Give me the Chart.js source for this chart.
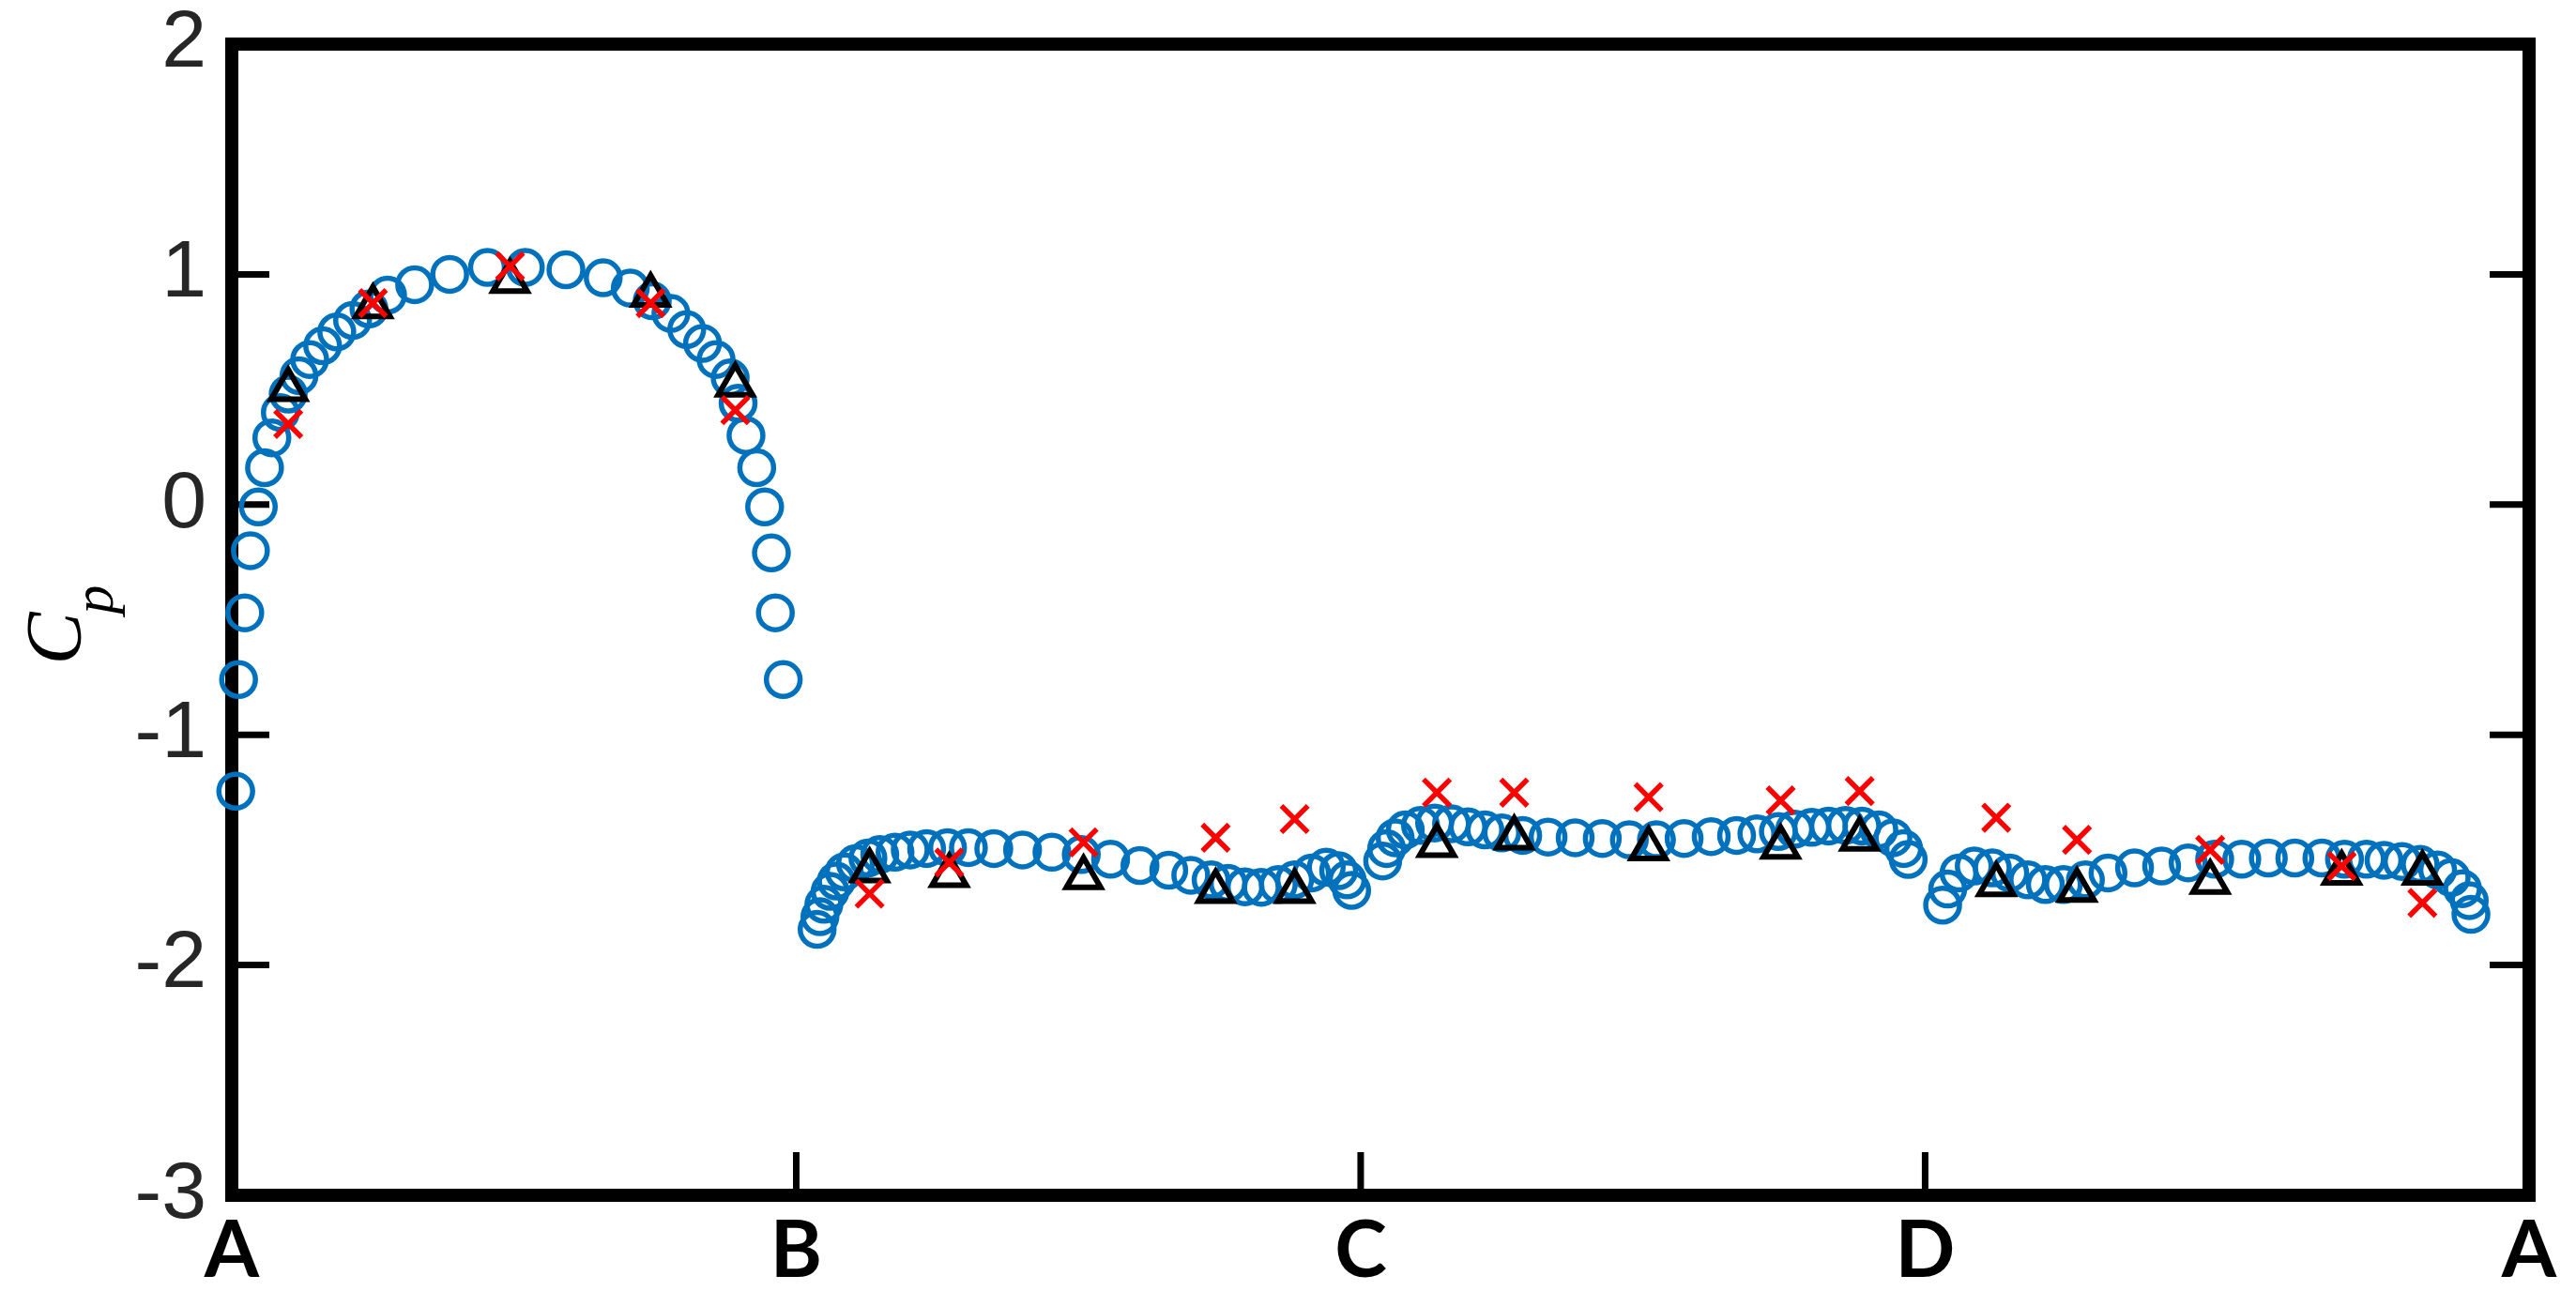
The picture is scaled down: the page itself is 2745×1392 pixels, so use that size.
<!DOCTYPE html>
<html>
<head>
<meta charset="utf-8">
<script src="https://cdn.jsdelivr.net/npm/chart.js@4.4.0/dist/chart.umd.min.js"></script>
<style>
  html, body { margin: 0; padding: 0; background: #fff; }
  #wrap { width: 2745px; height: 1392px; position: relative; }
</style>
</head>
<body>
<div id="wrap"><canvas id="cpChart"></canvas></div>
<script>
// position round the section: A = 0, B = 1, C = 2, D = 3, back to A at the right edge
const xTickValues = [0, 1, 2, 3, 4.07];
const xTickLabels = ['A', 'B', 'C', 'D', 'A'];
const yTickValues = [2, 1, 0, -1, -2, -3];

// blue circles, face by face
const xAB = [0.007, 0.012, 0.023, 0.033, 0.047, 0.058, 0.071, 0.086, 0.100, 0.119, 0.138, 0.161, 0.186, 0.214, 0.243, 0.276, 0.324, 0.386,
             0.453, 0.520, 0.592, 0.658, 0.706, 0.745, 0.778, 0.806, 0.834, 0.858, 0.883, 0.897, 0.911, 0.930, 0.944, 0.956, 0.963, 0.977];
const cpAB = [-1.245, -0.76, -0.47, -0.20, -0.01, 0.16, 0.29, 0.40, 0.48, 0.56, 0.63, 0.69, 0.75, 0.80, 0.85, 0.91, 0.955, 1.0,
              1.03, 1.03, 1.02, 0.985, 0.94, 0.885, 0.83, 0.76, 0.70, 0.63, 0.55, 0.44, 0.30, 0.16, -0.01, -0.21, -0.47, -0.76];

const xBC = [1.037, 1.042, 1.049, 1.060, 1.071, 1.085, 1.105, 1.127, 1.148, 1.175, 1.202, 1.231, 1.268, 1.305, 1.350, 1.401, 1.453,
             1.505, 1.557, 1.609, 1.660, 1.699, 1.735, 1.765, 1.795, 1.824, 1.854, 1.883, 1.913, 1.939, 1.961, 1.976, 1.984];
const cpBC = [-1.845, -1.79, -1.736, -1.68, -1.635, -1.595, -1.56, -1.535, -1.52, -1.51, -1.50, -1.494, -1.49, -1.49, -1.494, -1.50, -1.51,
              -1.52, -1.54, -1.568, -1.588, -1.61, -1.63, -1.645, -1.66, -1.662, -1.65, -1.63, -1.60, -1.575, -1.59, -1.63, -1.676];

const xCD = [2.039, 2.046, 2.061, 2.079, 2.106, 2.131, 2.161, 2.190, 2.220, 2.250, 2.287, 2.332, 2.380, 2.428, 2.476,
             2.524, 2.573, 2.621, 2.666, 2.702, 2.740, 2.769, 2.799, 2.829, 2.859, 2.888, 2.918, 2.943, 2.962, 2.970];
const cpCD = [-1.548, -1.494, -1.447, -1.413, -1.393, -1.383, -1.386, -1.40, -1.413, -1.426, -1.437, -1.444, -1.447, -1.45, -1.456,
              -1.456, -1.45, -1.442, -1.437, -1.43, -1.42, -1.41, -1.402, -1.396, -1.393, -1.396, -1.413, -1.447, -1.494, -1.541];

const xDA = [3.031, 3.040, 3.060, 3.087, 3.119, 3.150, 3.182, 3.213, 3.245, 3.284, 3.324, 3.371, 3.419, 3.466, 3.513,
             3.561, 3.608, 3.655, 3.703, 3.743, 3.782, 3.813, 3.845, 3.877, 3.908, 3.932, 3.952, 3.964, 3.967];
const cpDA = [-1.74, -1.67, -1.60, -1.57, -1.578, -1.60, -1.63, -1.65, -1.65, -1.63, -1.60, -1.578, -1.57, -1.556, -1.54,
              -1.54, -1.535, -1.535, -1.535, -1.54, -1.54, -1.545, -1.55, -1.563, -1.587, -1.62, -1.668, -1.72, -1.78];

// pressure taps: black triangles and red crosses share the same positions
const xTaps = [0.100, 0.250, 0.493, 0.742, 0.892,
               1.130, 1.271, 1.509, 1.743, 1.883,
               2.135, 2.272, 2.510, 2.744, 2.884,
               3.126, 3.269, 3.505, 3.738, 3.881];
const cpTriangle = [0.50, 0.86, 0.97, 0.91, 0.52,
                    -1.59, -1.61, -1.62, -1.68, -1.68,
                    -1.48, -1.447, -1.494, -1.487, -1.453,
                    -1.65, -1.675, -1.64, -1.60, -1.60];
const cpCross = [0.35, 0.875, 1.035, 0.875, 0.41,
                 -1.69, -1.555, -1.467, -1.447, -1.366,
                 -1.251, -1.251, -1.271, -1.285, -1.244,
                 -1.36, -1.456, -1.50, -1.57, -1.73];

const faces = [[xAB, cpAB], [xBC, cpBC], [xCD, cpCD], [xDA, cpDA]];
const circlePts = faces.flatMap(([xs, ys]) => xs.map((x, i) => ({ x: x, y: ys[i] })));
const trianglePts = xTaps.map((x, i) => ({ x: x, y: cpTriangle[i] }));
const crossPts = xTaps.map((x, i) => ({ x: x, y: cpCross[i] }));

// thick box, inward ticks and the C_p label
const framePlugin = {
    id: 'frame',
    beforeDatasetsDraw(chart) {
        const { ctx, chartArea: a, scales: { x, y } } = chart;
        ctx.save();
        ctx.strokeStyle = '#000';
        ctx.lineWidth = 7;
        ctx.beginPath();
        [1, 0, -1, -2].forEach(v => {
            const py = y.getPixelForValue(v);
            ctx.moveTo(a.left, py); ctx.lineTo(a.left + 40, py);
            ctx.moveTo(a.right, py); ctx.lineTo(a.right - 42, py);
        });
        [1, 2, 3].forEach(v => {
            const px = x.getPixelForValue(v);
            ctx.moveTo(px, a.bottom); ctx.lineTo(px, a.bottom - 46);
        });
        ctx.stroke();
        ctx.lineWidth = 14;
        ctx.strokeRect(a.left, a.top, a.right - a.left, a.bottom - a.top);
        ctx.restore();
    },
    afterDraw(chart) {
        const { ctx, chartArea: a } = chart;
        ctx.save();
        ctx.translate(86, (a.top + a.bottom) / 2 + 48);
        ctx.rotate(-Math.PI / 2);
        ctx.fillStyle = '#000';
        ctx.textBaseline = 'alphabetic';
        ctx.font = 'italic 84px "Liberation Serif"';
        ctx.fillText('C', 0, 0);
        const w = ctx.measureText('C').width;
        ctx.font = 'italic 62px "Liberation Serif"';
        ctx.fillText('p', w - 2, 34);
        ctx.restore();
    }
};

const ctx = document.getElementById('cpChart').getContext('2d');
const cpChart = new Chart(ctx, {
    type: 'scatter',
    data: {
        datasets: [
            {
                label: 'cross',
                data: crossPts,
                order: 0,
                pointStyle: 'crossRot',
                pointRadius: 20,
                borderWidth: 5.5,
                borderColor: '#ff0000',
                backgroundColor: '#ff0000',
                clip: false
            },
            {
                label: 'triangle',
                data: trianglePts,
                order: 1,
                pointStyle: 'triangle',
                pointRadius: 21,
                borderWidth: 6,
                borderColor: '#000',
                backgroundColor: 'rgba(0,0,0,0)',
                clip: false
            },
            {
                label: 'circle',
                data: circlePts,
                order: 2,
                pointStyle: 'circle',
                pointRadius: 18,
                borderWidth: 5.5,
                borderColor: '#0072bd',
                backgroundColor: 'rgba(0,0,0,0)',
                clip: false
            }
        ]
    },
    options: {
        responsive: true,
        maintainAspectRatio: false,
        animation: false,
        devicePixelRatio: 1,
        events: [],
        layout: { padding: { top: 47, right: 50, left: 0, bottom: 0 } },
        scales: {
            x: {
                type: 'linear',
                min: 0,
                max: 4.07,
                afterBuildTicks: s => { s.ticks = xTickValues.map(v => ({ value: v })); },
                afterFit: s => { s.height = 118; },
                grid: { display: false, drawTicks: false },
                border: { display: false },
                ticks: {
                    autoSkip: false,
                    maxRotation: 0,
                    padding: 10,
                    color: '#000',
                    font: { family: 'Lato', weight: 'bold', size: 84 },
                    callback: (v, i) => xTickLabels[i]
                }
            },
            y: {
                min: -3,
                max: 2,
                afterBuildTicks: s => { s.ticks = yTickValues.map(v => ({ value: v })); },
                afterFit: s => { s.width = 247; s.paddingTop = 0; s.paddingBottom = 0; },
                grid: { display: false, drawTicks: false },
                border: { display: false },
                ticks: {
                    padding: 27,
                    color: '#262626',
                    font: { family: '"Liberation Sans", Arial, sans-serif', size: 86 },
                    callback: v => String(v)
                }
            }
        },
        plugins: {
            legend: { display: false },
            tooltip: { enabled: false }
        }
    },
    plugins: [framePlugin]
});
</script>
</body>
</html>
